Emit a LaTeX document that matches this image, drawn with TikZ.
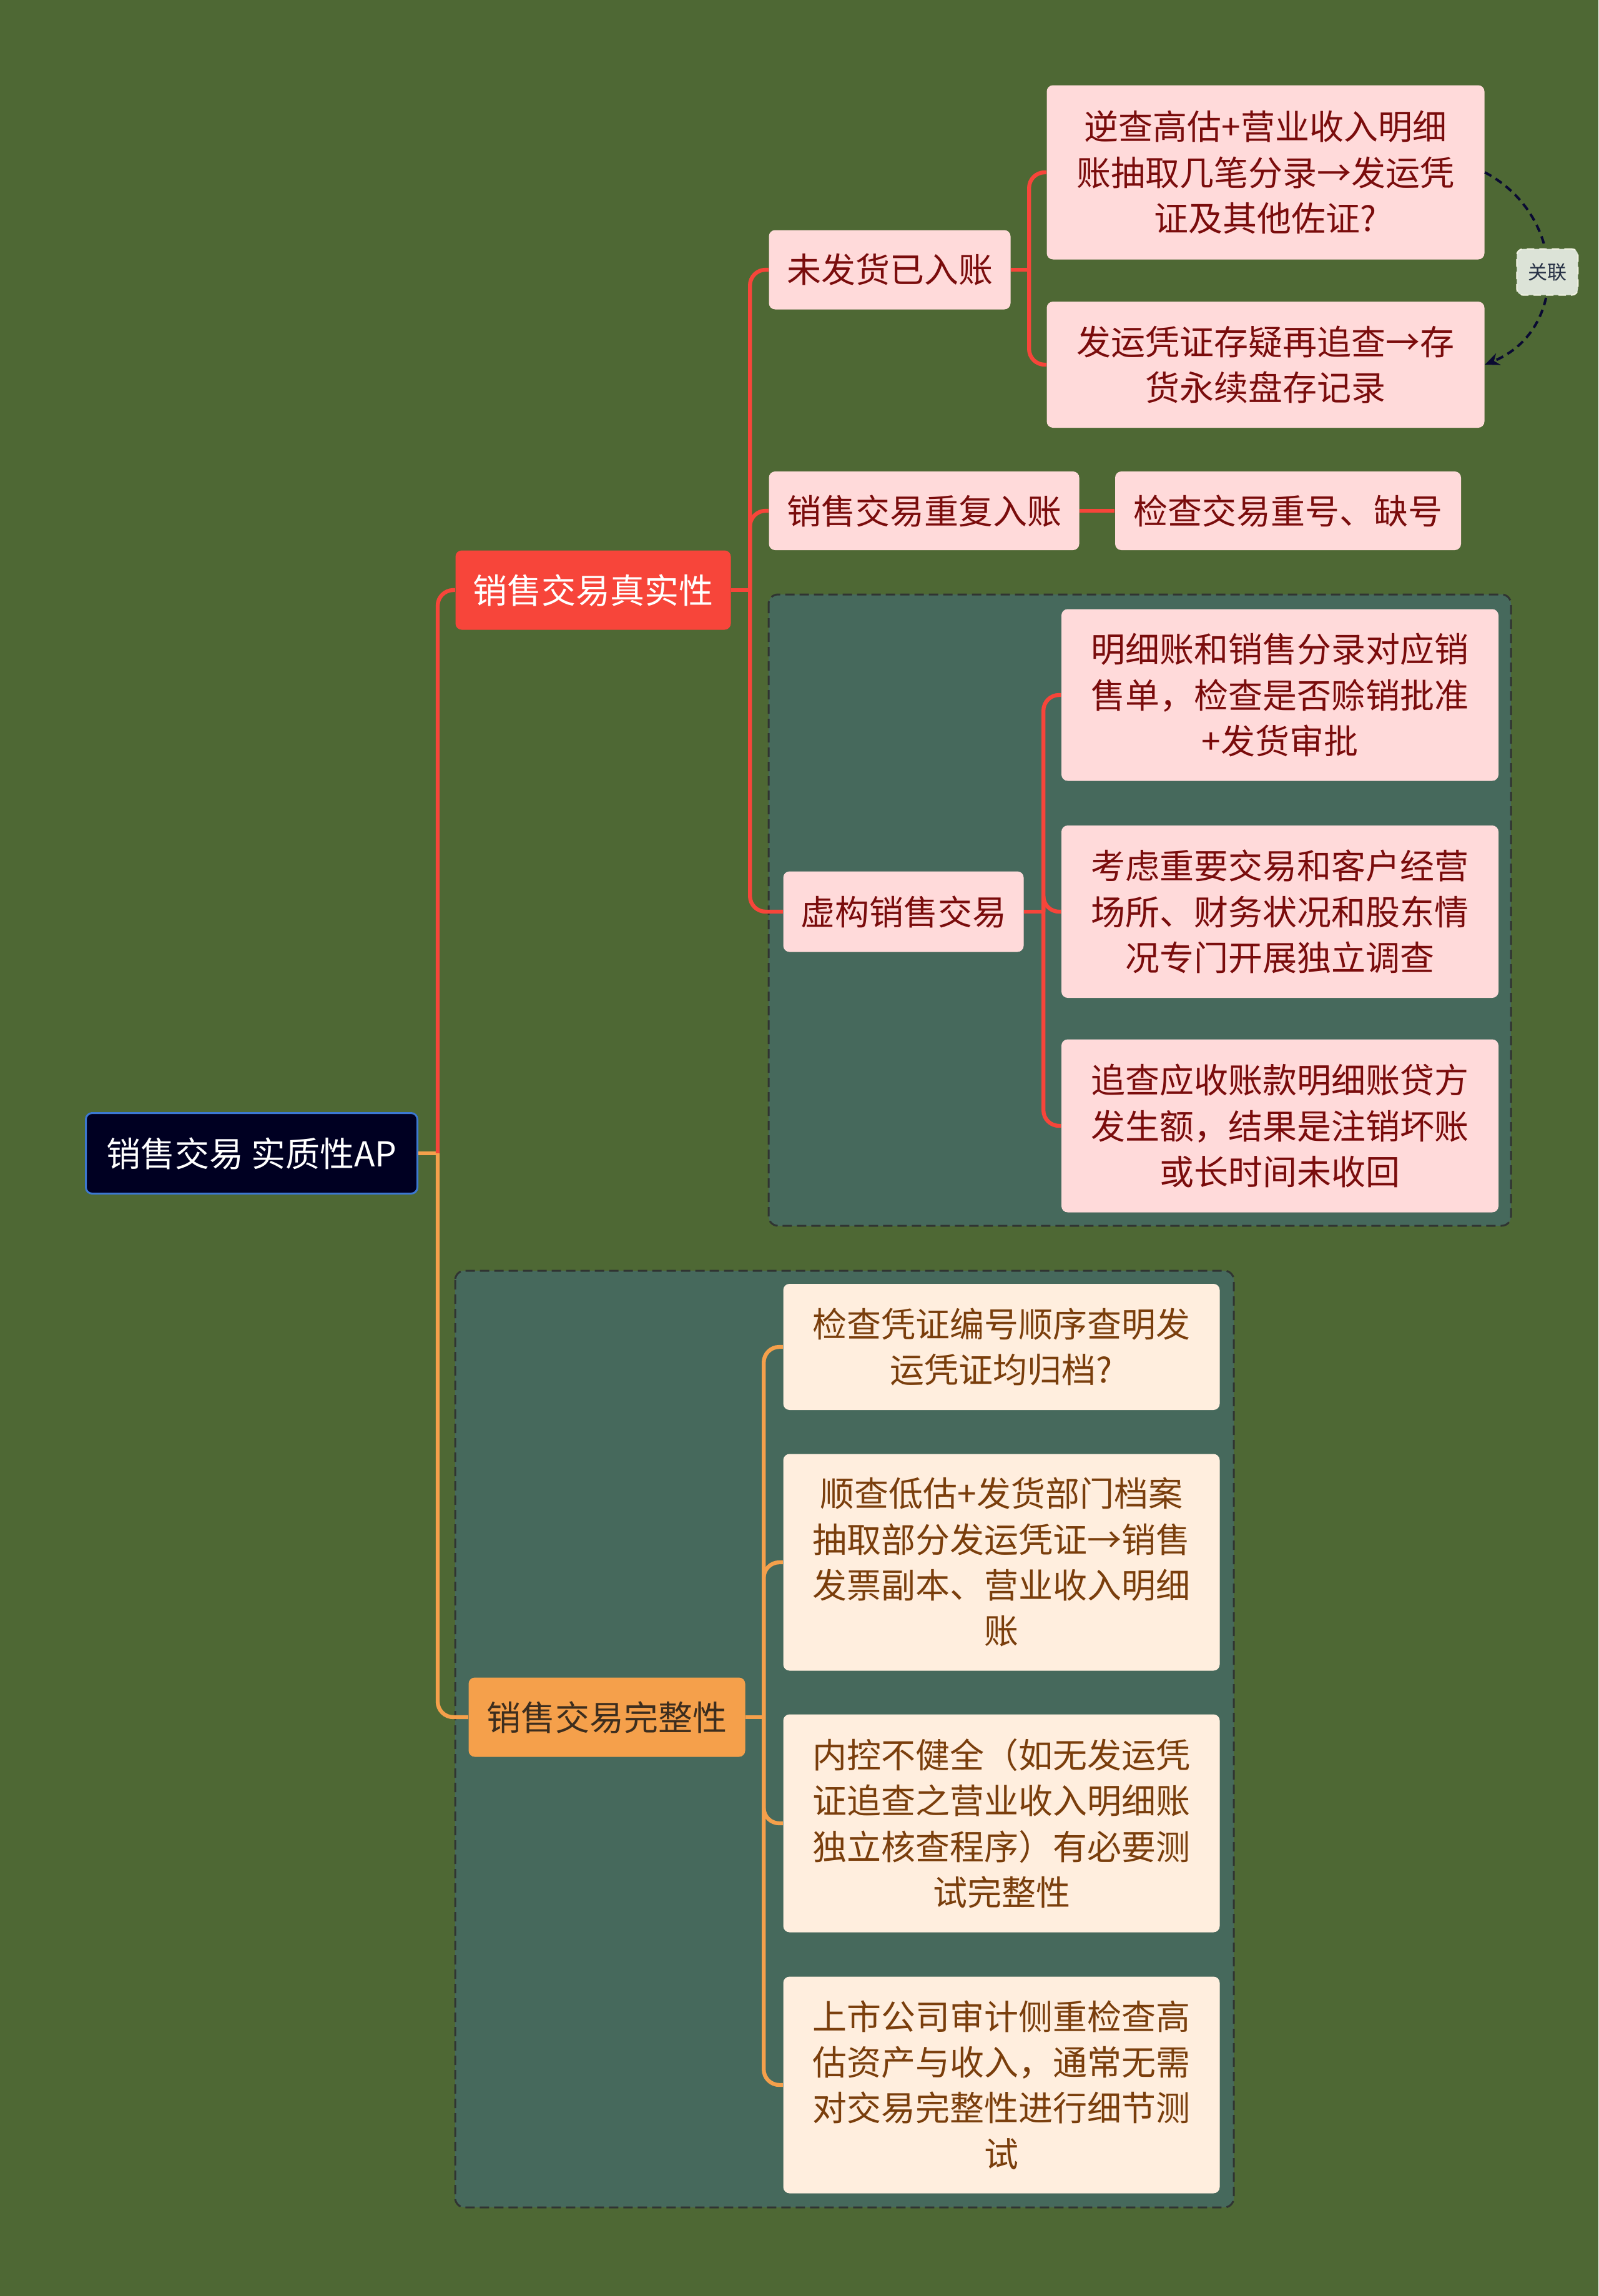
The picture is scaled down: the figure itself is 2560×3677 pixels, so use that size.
\documentclass[tikz,border=0pt]{standalone}
\usepackage{fontspec}
\setmainfont{Noto Sans CJK SC}
\usetikzlibrary{arrows.meta,calc}
\definecolor{bgc}{RGB}{78,104,52}
\definecolor{grpfill}{RGB}{70,105,92}
\definecolor{grpline}{RGB}{48,52,50}
\definecolor{redc}{RGB}{247,69,58}
\definecolor{pinkc}{RGB}{255,218,218}
\definecolor{darkred}{RGB}{122,12,12}
\definecolor{peachc}{RGB}{255,238,222}
\definecolor{brownc}{RGB}{122,62,12}
\definecolor{orangec}{RGB}{245,160,75}
\definecolor{otext}{RGB}{60,45,30}
\definecolor{rootfill}{RGB}{0,0,34}
\definecolor{rootline}{RGB}{60,120,210}
\definecolor{linkc}{RGB}{10,10,50}
\definecolor{lblfill}{RGB}{220,227,215}
\definecolor{lblline}{RGB}{245,245,230}
\definecolor{lbltext}{RGB}{40,50,70}
\tikzset{
  box/.style={rounded corners=3pt, inner sep=0pt, align=center, font=\fontsize{16.5}{22}\selectfont},
  rootbox/.style={box, fill=rootfill, draw=rootline, line width=0.9pt, text=white},
  redbox/.style={box, fill=redc, text=white},
  orgbox/.style={box, fill=orangec, text=otext},
  pinkbox/.style={box, fill=pinkc, text=darkred},
  peachbox/.style={box, fill=peachc, text=brownc},
  groupbox/.style={fill=grpfill, draw=grpline, line width=0.9pt, dash pattern=on 4.5pt off 2.4pt, rounded corners=4.5pt},
  rline/.style={draw=redc, line width=1.9pt, rounded corners=7.5pt},
  oline/.style={draw=orangec, line width=1.9pt, rounded corners=7.5pt},
  linkline/.style={draw=linkc, line width=1.2pt, dash pattern=on 3.6pt off 2.4pt, -{Stealth[length=7pt,width=6pt]}},
  lblbox/.style={rounded corners=3pt, fill=lblfill, draw=lblline, line width=0.6pt, text=lbltext, font=\fontsize{9.3}{11}\selectfont, minimum width=29.4pt, minimum height=22.2pt, inner sep=0pt}
}
\begin{document}
\begin{tikzpicture}[x=0.3pt,y=-0.3pt]
\useasboundingbox[fill=bgc] (0,0) rectangle (2560,3677);
% groups
\draw[groupbox] (1231,952) rectangle (2420,1963);
\draw[groupbox] (729,2035) rectangle (1976,3535);
% nodes
\node[rootbox, minimum width=159.3pt, minimum height=38.7pt] (root) at (403,1847) {销售交易 实质性AP};
\node[redbox, minimum width=132.3pt, minimum height=38.1pt] (T) at (950,945) {销售交易真实性};
\node[orgbox, minimum width=132.9pt, minimum height=38.1pt] (C) at (972,2750) {销售交易完整性};
\node[pinkbox, minimum width=116.1pt, minimum height=38.1pt] (A) at (1425,432) {未发货已入账};
\node[pinkbox, minimum width=149.1pt, minimum height=37.8pt] (B) at (1480,818) {销售交易重复入账};
\node[pinkbox, minimum width=115.5pt, minimum height=38.7pt] (F) at (1447,1460) {虚构销售交易};
\node[pinkbox, minimum width=210.3pt, minimum height=83.7pt] (A1) at (2027,276) {逆查高估+营业收入明细\\账抽取几笔分录→发运凭\\证及其他佐证?};
\node[pinkbox, minimum width=210.3pt, minimum height=60.6pt] (A2) at (2027,584) {发运凭证存疑再追查→存\\货永续盘存记录};
\node[pinkbox, minimum width=166.2pt, minimum height=37.8pt] (B1) at (2063,818) {检查交易重号、缺号};
\node[pinkbox, minimum width=210pt, minimum height=82.5pt] (F1) at (2050,1113) {明细账和销售分录对应销\\售单，检查是否赊销批准\\+发货审批};
\node[pinkbox, minimum width=210pt, minimum height=82.8pt] (F2) at (2050,1460) {考虑重要交易和客户经营\\场所、财务状况和股东情\\况专门开展独立调查};
\node[pinkbox, minimum width=210pt, minimum height=83.1pt] (F3) at (2050,1803) {追查应收账款明细账贷方\\发生额，结果是注销坏账\\或长时间未收回};
\node[peachbox, minimum width=209.7pt, minimum height=60.6pt] (C1) at (1604,2157) {检查凭证编号顺序查明发\\运凭证均归档?};
\node[peachbox, minimum width=209.7pt, minimum height=104.1pt] (C2) at (1604,2502) {顺查低估+发货部门档案\\抽取部分发运凭证→销售\\发票副本、营业收入明细\\账};
\node[peachbox, minimum width=209.7pt, minimum height=104.7pt] (C3) at (1604,2920) {内控不健全（如无发运凭\\证追查之营业收入明细账\\独立核查程序）有必要测\\试完整性};
\node[peachbox, minimum width=209.7pt, minimum height=104.1pt] (C4) at (1604,3339) {上市公司审计侧重检查高\\估资产与收入，通常无需\\对交易完整性进行细节测\\试};
% connectors
\draw[oline] (root.east) -- ++(31,0) coordinate (rj);
\draw[rline] (rj) |- (T.west);
\draw[oline] (rj) |- (C.west);
\draw[rline] (T.east) -- ++(30,0) coordinate (tj);
\foreach \n in {A,B,F} \draw[rline] (tj) |- (\n.west);
\draw[rline] (A.east) -- ++(29,0) coordinate (aj);
\foreach \n in {A1,A2} \draw[rline] (aj) |- (\n.west);
\draw[rline] (B.east) -- (B1.west);
\draw[rline] (F.east) -- ++(31,0) coordinate (fj);
\foreach \n in {F1,F2,F3} \draw[rline] (fj) |- (\n.west);
\draw[oline] (C.east) -- ++(29,0) coordinate (cj);
\foreach \n in {C1,C2,C3,C4} \draw[oline] (cj) |- (\n.west);
% relation
\draw[linkline] (A1.east) .. controls +(132,70) and +(135,-55) .. (A2.east) node[pos=0.5, lblbox] (lbl) {关联};
\end{tikzpicture}
\end{document}
